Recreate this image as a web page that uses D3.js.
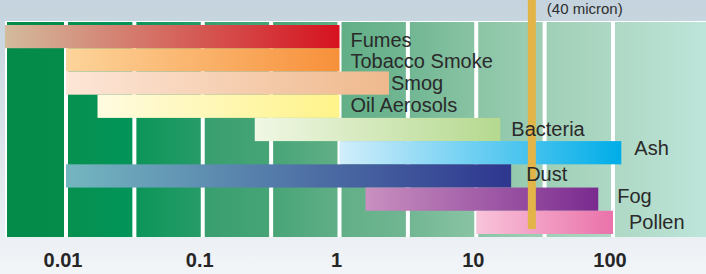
<!DOCTYPE html>
<html>
<head>
<meta charset="utf-8">
<script src="https://cdn.jsdelivr.net/npm/d3@7"></script>
<style>
  html, body { margin: 0; padding: 0; }
  body { width: 706px; height: 274px; overflow: hidden; }
  text { font-family: "Liberation Sans", Arial, sans-serif; }
</style>
</head>
<body>
<div id="chart"></div>
<script>
// Particle size ranges in microns
const particles = ['Fumes', 'Tobacco Smoke', 'Smog', 'Oil Aerosols', 'Bacteria', 'Ash', 'Dust', 'Fog', 'Pollen'];
const sizeMin = [0.001, 0.01, 0.01, 0.017, 0.24, 1, 0.01, 1.55, 10];
const sizeMax = [1, 1, 2.3, 1, 15, 115, 18, 78, 100];

const tickValues = [0.01, 0.1, 1, 10, 100];
const tickLabels = ['0.01', '0.1', '1', '10', '100'];

// vertical marker line
const markerValue = 25.5;
const markerLabel = '(40 micron)';

// bar colours, left -> right
const colorFrom = ['#d3bb9d', '#fdd49b', '#fde6d7', '#fffbe0', '#f0f7e4', '#d2eefb', '#74b6c0', '#c990c0', '#f8c4da'];
const colorTo   = ['#d6121f', '#f7903a', '#efb98d', '#fff389', '#b5d98f', '#00ade8', '#2e368f', '#7a2a8f', '#ea72aa'];

// small label tweaks [dx, dy]
const labelNudge = {
  'Fumes': [11, 5], 'Tobacco Smoke': [11, 3], 'Smog': [2, 2], 'Oil Aerosols': [11, 1],
  'Bacteria': [11, 1], 'Ash': [13, -2.7], 'Dust': [15, 0], 'Fog': [19, -1.4], 'Pollen': [16, 1.6]
};

const w = 706, h = 274;
const plot = { left: 5, right: 706, top: 21, bottom: 237 };

const svg = d3.select('#chart')
  .append('svg')
  .attr('width', w)
  .attr('height', h);

const defs = svg.append('defs');

// page background
const bg = defs.append('linearGradient')
  .attr('id', 'bg')
  .attr('x1', 0).attr('y1', 0).attr('x2', 0).attr('y2', 1);
bg.append('stop').attr('offset', '0%').attr('stop-color', '#c4d3dd');
bg.append('stop').attr('offset', '85%').attr('stop-color', '#eaeff3');
bg.append('stop').attr('offset', '100%').attr('stop-color', '#f2f5f8');

svg.append('rect')
  .attr('width', w)
  .attr('height', h)
  .attr('fill', 'url(#bg)');

// Scales
const xScale = d3.scaleLog()
  .domain([0.01, 100])
  .range([66, 613]);

const yScale = d3.scaleBand()
  .domain(particles)
  .range([25, 234]);

// green columns, one gradient across the whole plot
const colGrad = defs.append('linearGradient')
  .attr('id', 'cols')
  .attr('gradientUnits', 'userSpaceOnUse')
  .attr('x1', plot.left).attr('x2', plot.right)
  .attr('y1', 0).attr('y2', 0);
[
  [7, '#048b4a'], [64, '#058c4b'], [68, '#07904f'], [132, '#019459'],
  [136, '#0c9558'], [201, '#279c69'], [205, '#399f6f'], [269, '#46a476'],
  [341, '#62af87'], [406, '#70b692'], [476, '#8ac4a5'], [544, '#9fcfb6'],
  [613, '#aed8c4'], [706, '#bde5da']
].forEach(([px, c]) => {
  colGrad.append('stop')
    .attr('offset', ((px - plot.left) / (plot.right - plot.left) * 100) + '%')
    .attr('stop-color', c);
});

svg.append('rect')
  .attr('x', plot.left)
  .attr('y', plot.top)
  .attr('width', plot.right - plot.left)
  .attr('height', plot.bottom - plot.top)
  .attr('fill', '#ffffff');

// half-decade dividers
const dividers = d3.range(-2, 2.01, 0.5).map(p => Math.pow(10, p));
const edges = [plot.left + 2].concat(dividers.map(d => xScale(d))).concat([plot.right + 2]);
const gap = 2;

svg.append('g')
  .selectAll('rect')
  .data(d3.range(edges.length - 1))
  .enter()
  .append('rect')
  .attr('x', i => i === 0 ? edges[0] : edges[i] + gap)
  .attr('y', plot.top + 1)
  .attr('width', i => (edges[i + 1] - gap) - (i === 0 ? edges[0] : edges[i] + gap))
  .attr('height', plot.bottom - plot.top - 1)
  .attr('fill', 'url(#cols)');

// bar gradients
particles.forEach((p, i) => {
  const g = defs.append('linearGradient')
    .attr('id', 'bar' + i)
    .attr('x1', 0).attr('x2', 1).attr('y1', 0).attr('y2', 0);
  g.append('stop').attr('offset', '0%').attr('stop-color', colorFrom[i]);
  g.append('stop').attr('offset', '100%').attr('stop-color', colorTo[i]);
});

const rows = particles.map((p, i) => ({ name: p, min: sizeMin[i], max: sizeMax[i], i }));

svg.append('g')
  .selectAll('rect')
  .data(rows)
  .enter()
  .append('rect')
  .attr('x', d => Math.max(plot.left, xScale(d.min)))
  .attr('y', d => yScale(d.name))
  .attr('width', d => xScale(d.max) - Math.max(plot.left, xScale(d.min)))
  .attr('height', yScale.bandwidth())
  .attr('fill', d => `url(#bar${d.i})`);

// marker line
svg.append('rect')
  .attr('x', xScale(markerValue) - 4)
  .attr('y', 0)
  .attr('width', 8)
  .attr('height', 229)
  .attr('fill', '#e3b548');

svg.append('text')
  .attr('x', xScale(markerValue) + 15)
  .attr('y', 14)
  .attr('font-size', '15px')
  .attr('fill', '#2e2e2e')
  .text(markerLabel);

// labels
svg.append('g')
  .selectAll('text')
  .data(rows)
  .enter()
  .append('text')
  .attr('x', d => xScale(d.max) + labelNudge[d.name][0])
  .attr('y', d => yScale(d.name) + yScale.bandwidth() / 2 + 5 + labelNudge[d.name][1])
  .attr('font-size', '20px')
  .attr('fill', '#2a2a2a')
  .text(d => d.name);

// x axis labels
svg.append('g')
  .selectAll('text')
  .data(tickValues)
  .enter()
  .append('text')
  .attr('x', d => xScale(d) - 3)
  .attr('y', 266.5)
  .attr('text-anchor', 'middle')
  .attr('font-size', '20px')
  .attr('font-weight', 'bold')
  .attr('fill', '#262626')
  .text((d, i) => tickLabels[i]);
</script>
</body>
</html>
